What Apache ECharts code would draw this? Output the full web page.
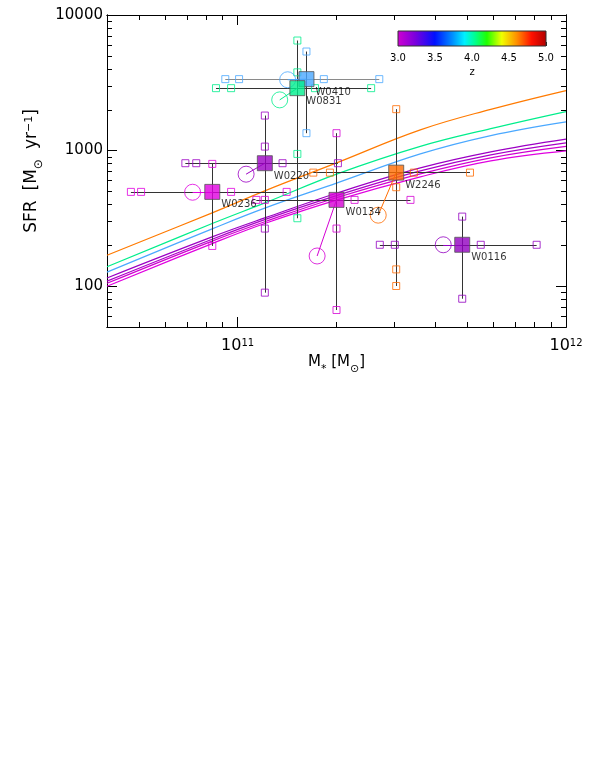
<!DOCTYPE html>
<html>
<head>
<meta charset="utf-8">
<script src="https://cdn.jsdelivr.net/npm/echarts@6/dist/echarts.min.js"></script>
<style>
  html, body { margin: 0; padding: 0; background: #fff; }
  #chart { width: 595px; height: 770px; }
</style>
</head>
<body>
<div id="chart"></div>
<script>
// sources (big squares) and their redshift colour
const NAMES = ["W0410", "W0831", "W0220", "W0236", "W0134", "W2246", "W0116"];
const POINT_COLORS = ["#4aa8ff", "#00ee8c", "#9c00c4", "#e000e0", "#d400d4", "#ff6c00", "#9200c0"];
const MASS = [1.62e11, 1.52e11, 1.21e11, 8.37e10, 2.0e11, 3.04e11, 4.83e11];
const SFR = [3365, 2887, 807, 496, 433, 688, 202];

// alternative masses (horizontal bar) and SFRs (vertical bar), small open squares
const MASS_ALT = [
  [9.17e10, 1.01e11, 1.83e11, 2.70e11],
  [8.59e10, 9.55e10, 1.72e11, 2.55e11],
  [6.93e10, 7.48e10, 1.37e11, 2.02e11],
  [4.73e10, 5.08e10, 9.55e10, 1.41e11],
  [1.14e11, 1.21e11, 2.27e11, 3.36e11],
  [1.70e11, 1.91e11, 3.44e11, 5.10e11],
  [2.71e11, 3.01e11, 5.50e11, 8.14e11]
];
const SFR_ALT = [
  [5378, 1344],
  [6482, 3776, 945, 317],
  [1813, 1070, 266, 89.6],
  [798, 198],
  [1344, 266, 66.7],
  [2021, 537, 133, 100.3],
  [326, 80.8]
];

// open circles joined to each source
const CIRCLE_MASS = [1.42e11, 1.343e11, 1.061e11, 7.29e10, 1.746e11, 2.68e11, 4.228e11];
const CIRCLE_SFR = [3330, 2366, 670, 493, 167, 334, 202];

// main-sequence curves
const CURVE_MASS = [4.0e10, 8.4e10, 1.215e11, 2.01e11, 3.6e11, 5.9e11, 1.0e12];
const MS_Z46 = [169, 349, 507, 815, 1422, 2014, 2772];
const MS_Z40 = [139, 291, 413, 673, 1074, 1452, 1940];
const MS_Z38 = [127, 266, 378, 578, 945, 1290, 1629];
const MS_A = [115, 232, 320, 487, 745, 978, 1214];
const MS_B = [109, 223, 311, 467, 708, 930, 1140];
const MS_C = [105, 216, 300, 451, 673, 885, 1074];
const MS_D = [100, 207, 291, 433, 640, 840, 995];
const CURVES = [MS_Z46, MS_Z40, MS_Z38, MS_A, MS_B, MS_C, MS_D];
const CURVE_COLORS = ["#ff7a00", "#00ee8c", "#4aa8ff", "#9c00c4", "#aa00c8", "#d000d0", "#e000e0"];

// axes
const X_MIN = 4e10, X_MAX = 1e12;
const Y_MIN = 50, Y_MAX = 10000;
const X_MAJOR = [1e11, 1e12];
const X_MINOR = [5e10, 6e10, 7e10, 8e10, 9e10, 2e11, 3e11, 4e11, 5e11, 6e11, 7e11, 8e11, 9e11];
const Y_MAJOR = [100, 1000, 10000];
const Y_MINOR = [60, 70, 80, 90, 200, 300, 400, 500, 600, 700, 800, 900,
  2000, 3000, 4000, 5000, 6000, 7000, 8000, 9000];

// colour bar
const Z_RANGE = [3.0, 5.0];

const FONT = "DejaVu Sans";

const chart = echarts.init(document.getElementById("chart"), null, { renderer: "canvas" });

function frameAxis(dim, pos, ticks, len) {
  return {
    type: "log",
    logBase: 10,
    gridIndex: 0,
    position: pos,
    min: dim === "x" ? X_MIN : Y_MIN,
    max: dim === "x" ? X_MAX : Y_MAX,
    axisLine: { show: true, lineStyle: { color: "#000", width: 1 } },
    axisTick: { show: true, inside: true, length: len, customValues: ticks, lineStyle: { color: "#000", width: 1 } },
    axisLabel: { show: false },
    splitLine: { show: false }
  };
}

const xBottom = frameAxis("x", "bottom", X_MAJOR, 10);
xBottom.axisLabel = {
  show: true,
  customValues: X_MAJOR,
  margin: 11,
  formatter: (v) => `{b|10}{s|${Math.round(Math.log10(v))}}`,
  rich: {
    b: { fontFamily: FONT, fontSize: 16, color: "#000", verticalAlign: "bottom" },
    s: { fontFamily: FONT, fontSize: 10, color: "#000", verticalAlign: "top" }
  }
};
xBottom.name = "{n|M}{sub|*}{n| [M}{sub|⊙}{n|]}";
xBottom.nameLocation = "middle";
xBottom.nameGap = 28;
xBottom.nameTextStyle = {
  rich: {
    n: { fontFamily: FONT, fontSize: 15, color: "#000", verticalAlign: "bottom", padding: [0, 0, 5, 0] },
    sub: { fontFamily: FONT, fontSize: 11, color: "#000", verticalAlign: "bottom" }
  }
};

const yLeft = frameAxis("y", "left", Y_MAJOR, 10);
yLeft.axisLabel = {
  show: true,
  customValues: Y_MAJOR,
  margin: 4,
  fontFamily: FONT,
  fontSize: 15,
  color: "#000",
  formatter: (v) => String(Math.round(v))
};
yLeft.name = "{n|SFR}{g|[M}{sub|⊙}{g|yr}{sup|−1}{n|]}";
yLeft.nameLocation = "middle";
yLeft.nameRotate = 90;
yLeft.nameGap = 62;
yLeft.nameTextStyle = {
  rich: {
    n: { fontFamily: FONT, fontSize: 17, color: "#000", verticalAlign: "bottom", padding: [0, 0, 4, 0] },
    g: { fontFamily: FONT, fontSize: 17, color: "#000", verticalAlign: "bottom", padding: [0, 0, 4, 10] },
    sub: { fontFamily: FONT, fontSize: 12, color: "#000", verticalAlign: "bottom" },
    sup: { fontFamily: FONT, fontSize: 11, color: "#000", verticalAlign: "top" }
  }
};

const xAxes = [
  xBottom,
  frameAxis("x", "bottom", X_MINOR, 5),
  frameAxis("x", "top", X_MAJOR, 10),
  frameAxis("x", "top", X_MINOR, 5),
  {
    type: "value",
    gridIndex: 1,
    min: Z_RANGE[0],
    max: Z_RANGE[1],
    interval: 0.5,
    position: "bottom",
    name: "z",
    nameLocation: "middle",
    nameGap: 21,
    nameTextStyle: { fontFamily: FONT, fontSize: 10, color: "#000" },
    axisLine: { show: false },
    axisTick: { show: true, inside: true, length: 4, lineStyle: { color: "#222" } },
    minorTick: { show: true, splitNumber: 5, length: 2, lineStyle: { color: "#222" } },
    axisLabel: { margin: 7, fontFamily: FONT, fontSize: 10, color: "#000", formatter: (v) => v.toFixed(1) },
    splitLine: { show: false }
  }
];

const yAxes = [
  yLeft,
  frameAxis("y", "left", Y_MINOR, 5),
  frameAxis("y", "right", Y_MAJOR, 10),
  frameAxis("y", "right", Y_MINOR, 5),
  { type: "value", gridIndex: 1, min: 0, max: 1, show: false }
];

const series = [];

CURVES.forEach((curve, i) => {
  series.push({
    type: "line",
    z: 1,
    smooth: 0.4,
    showSymbol: false,
    silent: true,
    lineStyle: { color: CURVE_COLORS[i], width: 1.2 },
    data: CURVE_MASS.map((m, k) => [m, curve[k]])
  });
});

// error bars: horizontal over the mass range, vertical over the SFR range
const barLines = [];
NAMES.forEach((name, i) => {
  const ms = MASS_ALT[i].concat(MASS[i]);
  const ss = SFR_ALT[i].concat(SFR[i]);
  barLines.push({ coords: [[Math.min(...ms), SFR[i]], [Math.max(...ms), SFR[i]]],
    lineStyle: { color: i === 0 ? "#8a8a8a" : "#333" } });
  barLines.push({ coords: [[MASS[i], Math.min(...ss)], [MASS[i], Math.max(...ss)]],
    lineStyle: { color: "#333" } });
});
series.push({
  type: "lines",
  coordinateSystem: "cartesian2d",
  z: 2,
  silent: true,
  lineStyle: { width: 1, opacity: 1 },
  data: barLines
});

series.push({
  type: "lines",
  coordinateSystem: "cartesian2d",
  z: 2,
  silent: true,
  lineStyle: { width: 1, opacity: 1 },
  data: NAMES.map((name, i) => ({
    coords: [[MASS[i], SFR[i]], [CIRCLE_MASS[i], CIRCLE_SFR[i]]],
    lineStyle: { color: POINT_COLORS[i] }
  }))
});

const smallSquares = [];
NAMES.forEach((name, i) => {
  MASS_ALT[i].forEach((m) => smallSquares.push({ value: [m, SFR[i]], itemStyle: { borderColor: POINT_COLORS[i] } }));
  SFR_ALT[i].forEach((s) => smallSquares.push({ value: [MASS[i], s], itemStyle: { borderColor: POINT_COLORS[i] } }));
});
series.push({
  type: "scatter",
  z: 3,
  symbol: "rect",
  symbolSize: 7,
  silent: true,
  itemStyle: { color: "rgba(255,255,255,0)", borderWidth: 1 },
  data: smallSquares
});

series.push({
  type: "scatter",
  z: 3,
  symbol: "circle",
  symbolSize: 16,
  silent: true,
  itemStyle: { color: "rgba(255,255,255,0)", borderWidth: 1 },
  data: NAMES.map((name, i) => ({ value: [CIRCLE_MASS[i], CIRCLE_SFR[i]], itemStyle: { borderColor: POINT_COLORS[i] } }))
});

series.push({
  type: "scatter",
  z: 4,
  symbol: "rect",
  symbolSize: 15,
  silent: true,
  itemStyle: { borderColor: "#555", borderWidth: 1 },
  label: {
    show: true,
    position: [17, 21],
    align: "left",
    verticalAlign: "middle",
    fontFamily: FONT,
    fontSize: 10,
    color: "#000",
    formatter: (p) => p.name
  },
  data: NAMES.map((name, i) => ({ name, value: [MASS[i], SFR[i]], itemStyle: { color: POINT_COLORS[i] } }))
});

// colour bar
series.push({
  type: "custom",
  coordinateSystem: "cartesian2d",
  xAxisIndex: 4,
  yAxisIndex: 4,
  silent: true,
  encode: { x: [0, 1] },
  data: [Z_RANGE],
  renderItem: (params, api) => {
    const p0 = api.coord([api.value(0), 0]);
    const p1 = api.coord([api.value(1), 1]);
    return {
      type: "rect",
      shape: { x: p0[0], y: p1[1], width: p1[0] - p0[0], height: p0[1] - p1[1] },
      style: {
        stroke: "#333",
        lineWidth: 1,
        fill: new echarts.graphic.LinearGradient(0, 0, 1, 0, [
          { offset: 0.0, color: "#d000d0" },
          { offset: 0.12, color: "#7a00dd" },
          { offset: 0.25, color: "#0010ff" },
          { offset: 0.37, color: "#0090ff" },
          { offset: 0.45, color: "#00f0ff" },
          { offset: 0.52, color: "#00ff90" },
          { offset: 0.6, color: "#20ff00" },
          { offset: 0.7, color: "#f0ff00" },
          { offset: 0.8, color: "#ff9000" },
          { offset: 0.9, color: "#ff1000" },
          { offset: 1.0, color: "#b00000" }
        ])
      }
    };
  }
});

chart.setOption({
  animation: false,
  backgroundColor: "#fff",
  grid: [
    { left: 107, top: 15, width: 459, height: 312, outerBoundsMode: "none" },
    { left: 398, top: 31, width: 148, height: 15, outerBoundsMode: "none" }
  ],
  xAxis: xAxes,
  yAxis: yAxes,
  series
});
</script>
</body>
</html>
